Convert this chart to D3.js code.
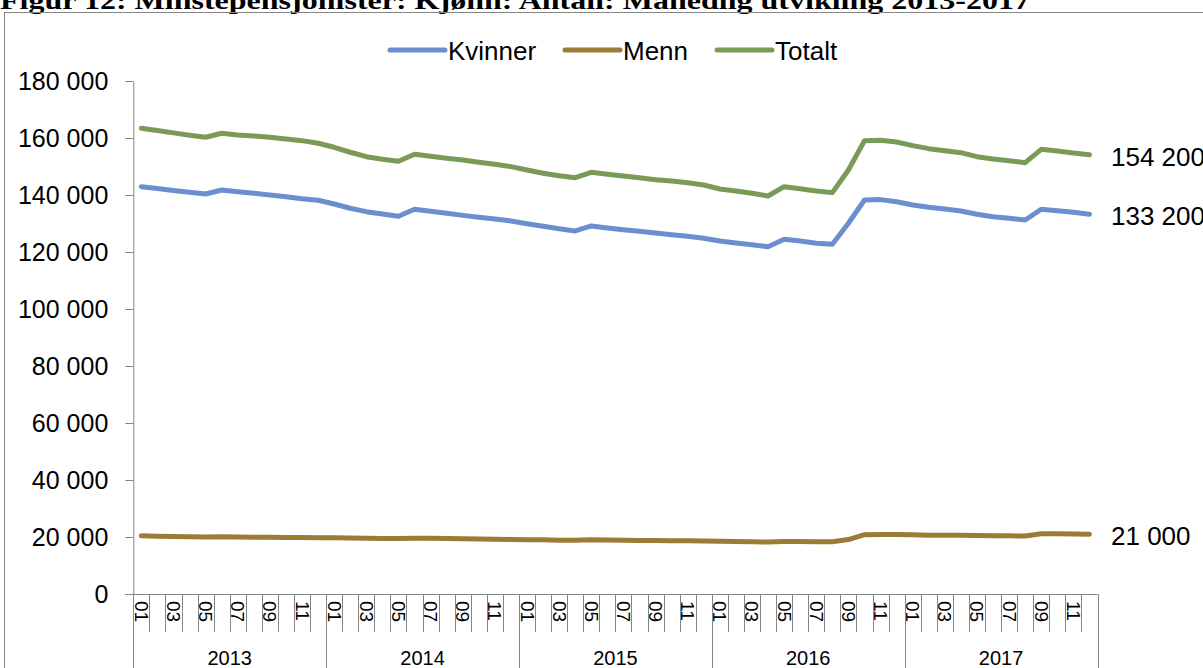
<!DOCTYPE html>
<html>
<head>
<meta charset="utf-8">
<script src="https://cdn.jsdelivr.net/npm/d3@7"></script>
<style>
body { margin: 0; background: #fff; }
svg { display: block; }
</style>
</head>
<body>
<script>
// months and years on the category axis
var months = ["01","02","03","04","05","06","07","08","09","10","11","12"];
var years = ["2013","2014","2015","2016","2017"];

// series values
var kvinner = [
  142930, 142300, 141600, 141000, 140360, 141760, 141170, 140600, 140010, 139420, 138710, 138140,
  136850, 135340, 134150, 133340, 132530, 134990, 134290, 133590, 132850, 132180, 131590, 130890,
  129940, 129030, 128180, 127380, 129130, 128430, 127830, 127270, 126680, 126090, 125520, 124820,
  123870, 123170, 122570, 121870, 124460, 123870, 123050, 122710, 130080, 138260, 138380, 137650,
  136500, 135700, 135100, 134400, 133240, 132400, 131830, 131240, 135000, 134500, 133950, 133240
];
var menn = [
  20400, 20300, 20200, 20100, 20000, 20100, 20000, 19950, 19900, 19850, 19800, 19750,
  19700, 19650, 19600, 19500, 19450, 19600, 19550, 19450, 19400, 19300, 19250, 19150,
  19050, 19000, 18900, 18850, 19050, 18950, 18900, 18800, 18750, 18700, 18650, 18600,
  18500, 18400, 18300, 18250, 18450, 18400, 18350, 18300, 19100, 20800, 20850, 20850,
  20750, 20650, 20650, 20600, 20500, 20450, 20400, 20350, 21150, 21100, 21050, 21000
];
var totalt = [
  163400, 162600, 161800, 161000, 160250, 161650, 161070, 160700, 160250, 159660, 159070, 158150,
  156750, 155000, 153450, 152530, 151830, 154290, 153590, 152880, 152300, 151480, 150780, 149960,
  148780, 147620, 146780, 146080, 147970, 147270, 146680, 146080, 145380, 144920, 144330, 143520,
  142110, 141410, 140600, 139660, 142930, 142230, 141410, 140830, 148780, 159070, 159190, 158610,
  157310, 156260, 155560, 154860, 153450, 152640, 152050, 151350, 156030, 155450, 154750, 154150
];
var seriesNames = ["Kvinner", "Menn", "Totalt"];
var endLabels = ["133 200", "21 000", "154 200"];
var yTicks = [0, 20000, 40000, 60000, 80000, 100000, 120000, 140000, 160000, 180000];

var w = 1203;
var h = 668;
var axisCol = "#868686";
var colors = ["#6a8fcf", "#9c7b36", "#7a9a58"];
var font = "'Liberation Sans', Arial, sans-serif";

// one entry per month over all years
var cats = [];
years.forEach(function(y) {
  months.forEach(function(m) { cats.push(y + "-" + m); });
});

var svg = d3.select("body")
  .append("svg")
  .attr("width", w)
  .attr("height", h);

// title, cut off at the top like the source
svg.append("text")
  .text("Figur 12: Minstepensjonister: Kjønn: Antall: Månedlig utvikling 2013-2017")
  .attr("x", 0)
  .attr("y", 9)
  .attr("textLength", 1030)
  .attr("lengthAdjust", "spacingAndGlyphs")
  .attr("font-family", "'Liberation Serif', 'Times New Roman', serif")
  .attr("font-weight", "bold")
  .attr("font-size", "25px")
  .attr("fill", "#000");

// chart frame
svg.append("rect")
  .attr("x", 4.5)
  .attr("y", 12.5)
  .attr("width", 1220)
  .attr("height", 680)
  .attr("fill", "none")
  .attr("stroke", axisCol)
  .attr("stroke-width", 1);

var x = d3.scaleBand()
  .domain(d3.range(cats.length))
  .range([133.3, 1097.5]);

var y = d3.scaleLinear()
  .domain([0, 180000])
  .range([594, 81]);

var fmt = function(d) { return d3.format(",")(d).replace(/,/g, " "); };

// y axis
var yAxis = svg.append("g")
  .attr("transform", "translate(" + x(0) + ",0)")
  .call(d3.axisLeft(y).tickValues(yTicks).tickFormat(fmt).tickSize(8).tickSizeOuter(0).tickPadding(17));
yAxis.select(".domain").attr("stroke", axisCol);
yAxis.selectAll(".tick line").attr("stroke", axisCol);
yAxis.selectAll("text")
  .attr("font-family", font)
  .attr("font-size", "25px")
  .attr("fill", "#000");

// x axis: month labels
var xAxis = svg.append("g")
  .attr("transform", "translate(0," + y(0) + ")")
  .call(d3.axisBottom(x).tickSize(0).tickFormat(function(d) {
    var m = months[d % 12];
    return (d % 2 === 0) ? m : "";
  }));
xAxis.select(".domain").attr("stroke", axisCol).attr("d", "M" + (x(0) - 8) + ",0.5H" + (x(0) + x.step() * cats.length));
xAxis.selectAll("text")
  .attr("font-family", font)
  .attr("font-size", "19px")
  .attr("fill", "#000")
  .attr("text-anchor", "start")
  .attr("dy", null)
  .attr("dominant-baseline", "central")
  .attr("transform", "translate(0,7) rotate(90)")
  .attr("y", 0)
  .attr("x", 0);

// category boundaries: short for months, long for years
svg.append("g")
  .selectAll("line")
  .data(d3.range(cats.length + 1))
  .enter()
  .append("line")
  .attr("x1", function(d) { return Math.round(x(0) + d * x.step()) + 0.5; })
  .attr("x2", function(d) { return Math.round(x(0) + d * x.step()) + 0.5; })
  .attr("y1", y(0))
  .attr("y2", function(d) { return d % 12 === 0 ? h + 5 : 632; })
  .attr("stroke", axisCol)
  .attr("stroke-width", 1);

// year labels
svg.append("g")
  .selectAll("text")
  .data(years)
  .enter()
  .append("text")
  .text(function(d) { return d; })
  .attr("x", function(d, i) { return x(i * 12) + x.step() * 6; })
  .attr("y", 665)
  .attr("text-anchor", "middle")
  .attr("font-family", font)
  .attr("font-size", "20px")
  .attr("fill", "#000");

// lines
var series = [kvinner, menn, totalt];
var line = d3.line()
  .x(function(d, i) { return x(i) + x.bandwidth() / 2; })
  .y(function(d) { return y(d); });

svg.append("g")
  .selectAll("path")
  .data(series)
  .enter()
  .append("path")
  .attr("d", line)
  .attr("fill", "none")
  .attr("stroke", function(d, i) { return colors[i]; })
  .attr("stroke-width", 5)
  .attr("stroke-linejoin", "round")
  .attr("stroke-linecap", "round");

// end labels
svg.append("g")
  .selectAll("text")
  .data(series)
  .enter()
  .append("text")
  .text(function(d, i) { return endLabels[i]; })
  .attr("x", 1111)
  .attr("y", function(d) { return y(d[d.length - 1]) + 2; })
  .attr("dominant-baseline", "central")
  .attr("font-family", font)
  .attr("font-size", "26px")
  .attr("fill", "#000");

// legend
var legX = [390, 565, 717];
var leg = svg.append("g")
  .selectAll("g")
  .data(seriesNames)
  .enter()
  .append("g")
  .attr("transform", function(d, i) { return "translate(" + legX[i] + ",50)"; });
leg.append("line")
  .attr("x1", 0)
  .attr("x2", 55)
  .attr("stroke", function(d, i) { return colors[i]; })
  .attr("stroke-width", 5)
  .attr("stroke-linecap", "round");
leg.append("text")
  .text(function(d) { return d; })
  .attr("x", 58)
  .attr("y", 1)
  .attr("dominant-baseline", "central")
  .attr("font-family", font)
  .attr("font-size", "26px")
  .attr("fill", "#000");
</script>
</body>
</html>
